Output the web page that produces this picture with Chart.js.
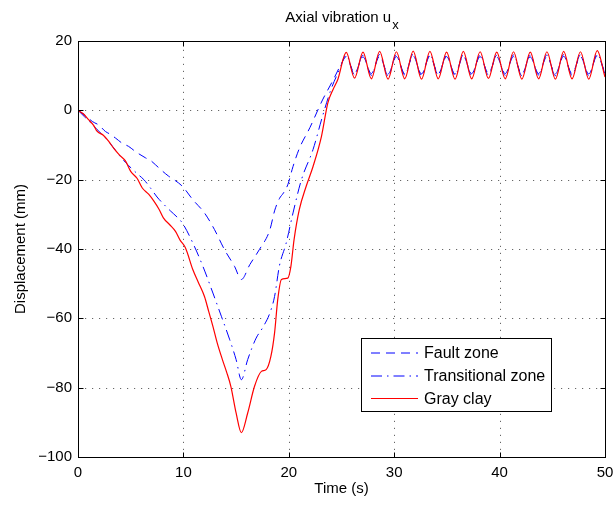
<!DOCTYPE html>
<html>
<head>
<meta charset="utf-8">
<script src="https://cdn.jsdelivr.net/npm/chart.js@4.4.0/dist/chart.umd.min.js"></script>
<style>
  html, body { margin: 0; padding: 0; background: #fff; }
</style>
</head>
<body>
<canvas id="chart" width="615" height="505"></canvas>
<script>
// --- DATA ---
// ramp part of each record (0 .. first peak)
const faultTime = [0, 0.7, 1.35, 2.0, 2.6, 3.0, 3.56, 4.2, 4.8, 5.5, 6.4, 6.9, 7.35, 8.0, 8.6, 9.2, 9.9,
  10.9, 12.0, 12.95, 13.9, 14.85, 15.5, 16.3, 17.2, 18.2, 18.65, 19.1, 19.5, 19.9, 20.4, 21.0, 22.0, 23.2, 24.2, 25.0, 25.45];
const faultRamp = [0, -1.5, -3.2, -4.3, -6.1, -6.8, -8.0, -9.5, -10.4, -12.0, -13.7, -14.5, -15.7, -17.5, -19.0, -20.2, -21.9,
  -25.8, -29.6, -34.4, -40.2, -45.0, -48.8, -44.5, -40.2, -34.5, -29.0, -25.5, -23.8, -21.5, -16.2, -11.0, -5.0, 3.0, 8.7, 13.5, 15.5];

const transTime = [0, 0.6, 1.2, 1.8, 2.3, 2.77, 3.3, 3.87, 4.5, 5.1, 5.7, 6.25, 6.9, 7.5, 8.2, 8.8, 9.3, 9.9,
  10.9, 11.85, 12.8, 13.6, 14.4, 15.0, 15.5, 16.1, 16.9, 17.5, 18.2, 18.65, 19.1, 19.75, 20.4, 21.2, 22.3, 23.2, 24.0, 24.8, 25.45];
const transRamp = [0, -1.8, -3.6, -5.5, -7.0, -8.5, -10.5, -12.8, -15.0, -16.8, -18.5, -20.0, -22.5, -25.0, -27.3, -29.1, -30.5, -32.5,
  -38.3, -45.0, -52.7, -59.4, -66.2, -71.9, -77.7, -71.9, -65.7, -62.8, -58.5, -53.7, -45.0, -38.3, -29.6, -20.0, -11.3, -1.7, 6.0, 11.7, 15.9];

const clayTime = [0, 0.5, 1.0, 1.5, 1.8, 2.4, 2.9, 3.4, 3.9, 4.5, 5.0, 5.6, 6.1, 6.7, 7.2, 7.7, 8.1, 8.7, 9.25, 9.7, 10.2,
  10.9, 11.4, 12.0, 12.4, 12.8, 13.2, 13.7, 14.1, 14.5, 15.0, 15.5, 16.1, 16.75, 17.4, 17.85, 18.3, 18.65, 18.95, 19.3, 19.9,
  20.2, 20.5, 21.0, 21.65, 22.3, 23.1, 23.7, 24.2, 24.65, 25.45];
const clayRamp = [0, -1.0, -2.7, -4.4, -6.0, -7.2, -8.9, -11.0, -12.8, -14.6, -17.6, -19.6, -22.4, -24.2, -26.2, -28.6, -31.0, -33.0, -34.9, -37.5, -39.7,
  -46.0, -49.5, -53.7, -58.0, -62.3, -67.0, -71.9, -75.5, -79.6, -87.3, -93.0, -87.3, -79.6, -75.3, -74.8, -71.0, -64.2, -54.6, -48.8, -48.4,
  -45.0, -37.3, -28.6, -21.9, -16.2, -7.5, 2.1, 6.0, 8.9, 16.7];

// steady vibration part: troughs and crests
const oscTime = [26.24, 27.04, 27.83, 28.62, 29.42, 30.21, 31.0, 31.8, 32.59, 33.39, 34.18, 34.97, 35.77, 36.56, 37.35, 38.15,
  38.94, 39.73, 40.53, 41.32, 42.11, 42.91, 43.7, 44.49, 45.29, 46.08, 46.87, 47.67, 48.46, 49.26, 50.0];
const faultOsc = [10.7, 15.4, 10.6, 15.6, 10.5, 15.5, 10.6, 15.7, 10.5, 15.6, 10.6, 15.5, 10.5, 15.6, 10.6, 15.5,
  10.7, 15.4, 10.6, 15.5, 10.5, 15.4, 10.6, 15.5, 10.5, 15.6, 10.6, 15.5, 10.5, 15.7, 10.9];
const transOsc = [10.3, 15.9, 10.1, 16.1, 10.0, 16.0, 10.2, 16.2, 10.0, 16.1, 10.2, 15.9, 10.1, 16.0, 10.1, 16.0,
  10.2, 15.9, 10.1, 16.0, 10.0, 15.9, 10.2, 16.0, 10.0, 16.1, 10.1, 16.0, 10.0, 16.2, 10.5];
const clayOsc = [9.3, 16.8, 9.1, 17.0, 9.0, 16.9, 9.1, 17.1, 9.0, 17.0, 9.1, 16.8, 9.0, 17.0, 9.1, 16.9,
  9.2, 16.8, 9.1, 16.9, 9.0, 16.8, 9.1, 16.9, 9.0, 17.0, 9.1, 16.9, 9.0, 17.2, 9.6];

const seriesNames = ['Fault zone', 'Transitional zone', 'Gray clay'];
const seriesColors = ['#0000ff', '#0000ff', '#ff0000'];
const seriesDash = [[9, 6], [11, 5, 1.5, 5], []];
const seriesWidth = [1, 1, 1.2];
const xTicks = [0, 10, 20, 30, 40, 50];
const yTicks = [-100, -80, -60, -40, -20, 0, 20];

const FONT = '"Liberation Sans", Arial, Helvetica, sans-serif';

const toPoints = (ts, vs) => ts.map((t, i) => ({ x: t, y: vs[i] }));

// --- PLUGINS ---
// dotted grid under the lines
const gridPlugin = {
    id: 'dotGrid',
    beforeDatasetsDraw(chart) {
        const { ctx, chartArea: a, scales: { x, y } } = chart;
        ctx.save();
        ctx.strokeStyle = 'rgba(0,0,0,0.6)';
        ctx.lineWidth = 1;
        ctx.setLineDash([1.2, 5.8]);
        xTicks.forEach(v => {
            if (v === xTicks[0] || v === xTicks[xTicks.length - 1]) return;
            const px = Math.round(x.getPixelForValue(v)) + 0.5;
            ctx.beginPath(); ctx.moveTo(px, a.bottom); ctx.lineTo(px, a.top); ctx.stroke();
        });
        yTicks.forEach(v => {
            if (v === yTicks[0] || v === yTicks[yTicks.length - 1]) return;
            const py = Math.round(y.getPixelForValue(v)) + 0.5;
            ctx.beginPath(); ctx.moveTo(a.left, py); ctx.lineTo(a.right, py); ctx.stroke();
        });
        ctx.restore();
    }
};

// box + inward tick marks, title with subscript, legend inside the axes
const framePlugin = {
    id: 'frame',
    afterDatasetsDraw(chart) {
        const { ctx, chartArea: a, scales: { x, y } } = chart;
        ctx.save();
        ctx.strokeStyle = '#000';
        ctx.lineWidth = 1;
        const L = Math.round(a.left) + 0.5, R = Math.round(a.right) + 0.5;
        const T = Math.round(a.top) + 0.5, B = Math.round(a.bottom) + 0.5;
        ctx.strokeRect(L, T, R - L, B - T);
        const tl = 5;
        ctx.beginPath();
        xTicks.forEach(v => {
            const px = Math.round(x.getPixelForValue(v)) + 0.5;
            ctx.moveTo(px, B); ctx.lineTo(px, B - tl);
            ctx.moveTo(px, T); ctx.lineTo(px, T + tl);
        });
        yTicks.forEach(v => {
            const py = Math.round(y.getPixelForValue(v)) + 0.5;
            ctx.moveTo(L, py); ctx.lineTo(L + tl, py);
            ctx.moveTo(R, py); ctx.lineTo(R - tl, py);
        });
        ctx.stroke();
        ctx.restore();
    },
    afterDraw(chart) {
        const { ctx, chartArea: a } = chart;
        ctx.save();
        // title "Axial vibration u" + subscript x
        const main = 'Axial vibration u', sub = 'x';
        ctx.font = '15px ' + FONT;
        const w1 = ctx.measureText(main).width;
        ctx.font = '13px ' + FONT;
        const w2 = ctx.measureText(sub).width;
        const sx = (a.left + a.right) / 2 - (w1 + w2) / 2;
        ctx.fillStyle = '#000';
        ctx.textBaseline = 'alphabetic';
        ctx.textAlign = 'left';
        ctx.font = '15px ' + FONT;
        ctx.fillText(main, sx, 22);
        ctx.font = '13px ' + FONT;
        ctx.fillText(sub, sx + w1 + 1, 29);

        // legend
        const box = { x: 361, y: 338, w: 190, h: 73 };
        ctx.fillStyle = '#fff';
        ctx.fillRect(box.x, box.y, box.w, box.h);
        ctx.strokeStyle = '#000';
        ctx.lineWidth = 1;
        ctx.setLineDash([]);
        ctx.strokeRect(box.x + 0.5, box.y + 0.5, box.w, box.h);
        const rows = [353, 376, 398.5];
        seriesNames.forEach((name, i) => {
            const ry = rows[i];
            ctx.save();
            ctx.strokeStyle = seriesColors[i];
            ctx.lineWidth = seriesWidth[i];
            ctx.setLineDash(seriesDash[i]);
            ctx.beginPath(); ctx.moveTo(371, ry); ctx.lineTo(418, ry); ctx.stroke();
            ctx.restore();
            ctx.fillStyle = '#000';
            ctx.font = '16px ' + FONT;
            ctx.textBaseline = 'middle';
            ctx.fillText(name, 424, Math.round(ry) + 1);
        });
        ctx.restore();
    }
};

// --- CHART ---
const ctx = document.getElementById('chart').getContext('2d');
new Chart(ctx, {
    type: 'line',
    data: {
        datasets: [
            {
                label: seriesNames[0],
                data: toPoints(faultTime.concat(oscTime), faultRamp.concat(faultOsc)),
                borderColor: seriesColors[0],
                borderWidth: seriesWidth[0],
                borderDash: seriesDash[0],
                order: 3
            },
            {
                label: seriesNames[1],
                data: toPoints(transTime.concat(oscTime), transRamp.concat(transOsc)),
                borderColor: seriesColors[1],
                borderWidth: seriesWidth[1],
                borderDash: seriesDash[1],
                order: 2
            },
            {
                label: seriesNames[2],
                data: toPoints(clayTime.concat(oscTime), clayRamp.concat(clayOsc)),
                borderColor: seriesColors[2],
                borderWidth: seriesWidth[2],
                order: 1
            }
        ]
    },
    options: {
        responsive: false,
        animation: false,
        devicePixelRatio: 1,
        layout: { padding: { top: 41, right: 10, bottom: 0, left: 0 } },
        elements: {
            point: { radius: 0 },
            line: { cubicInterpolationMode: 'monotone', fill: false }
        },
        plugins: {
            legend: { display: false },
            title: { display: false },
            tooltip: { enabled: false }
        },
        scales: {
            x: {
                type: 'linear',
                min: 0,
                max: 50,
                afterBuildTicks: s => { s.ticks = xTicks.map(v => ({ value: v })); },
                afterFit: s => { s.height = 48; s.paddingLeft = 0; s.paddingRight = 0; },
                grid: { display: false, drawTicks: false },
                border: { display: false },
                ticks: { color: '#000', font: { family: FONT, size: 15 }, padding: 7, maxRotation: 0 },
                title: { display: true, text: 'Time (s)', color: '#000', font: { family: FONT, size: 15 }, padding: { top: 0, bottom: 7 } }
            },
            y: {
                type: 'linear',
                min: -100,
                max: 20,
                afterBuildTicks: s => { s.ticks = yTicks.map(v => ({ value: v })); },
                afterFit: s => { s.width = 78; s.paddingTop = 0; s.paddingBottom = 0; },
                grid: { display: false, drawTicks: false },
                border: { display: false },
                ticks: {
                    color: '#000',
                    font: { family: FONT, size: 15 },
                    padding: 6,
                    callback: v => (v < 0 ? '\u2212' + Math.abs(v) : String(v))
                },
                title: { display: true, text: 'Displacement (mm)', color: '#000', font: { family: FONT, size: 15 }, padding: { top: 12, bottom: 0 } }
            }
        }
    },
    plugins: [gridPlugin, framePlugin]
});
</script>
</body>
</html>
